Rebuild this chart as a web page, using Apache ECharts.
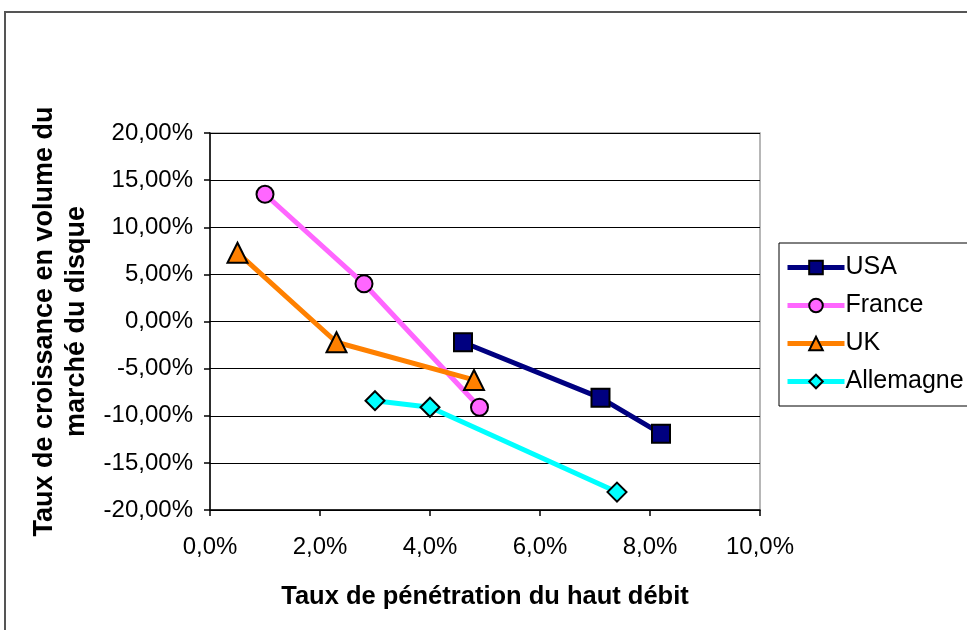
<!DOCTYPE html>
<html>
<head>
<meta charset="utf-8">
<script src="https://cdn.jsdelivr.net/npm/echarts@6/dist/echarts.min.js"></script>
<style>
html,body{margin:0;padding:0;background:#fff;}
#chart{width:967px;height:630px;}
</style>
</head>
<body>
<div id="chart"></div>
<script>
// Data (x: broadband penetration %, y: disc market volume growth %)
const seriesNames = ['USA', 'France', 'UK', 'Allemagne'];
const usaX = [4.6, 7.1, 8.2];
const usaY = [-2.2, -8.1, -11.9];
const franceX = [1.0, 2.8, 4.9];
const franceY = [13.5, 4.0, -9.1];
const ukX = [0.5, 2.3, 4.8];
const ukY = [7.3, -2.2, -6.2];
const allemagneX = [3.0, 4.0, 7.4];
const allemagneY = [-8.4, -9.1, -18.1];
const xTicks = [0, 2, 4, 6, 8, 10];
const yTicks = [-20, -15, -10, -5, 0, 5, 10, 15, 20];

const colors = ['#000080', '#FF66FF', '#FF8000', '#00FFFF'];
const symbols = ['rect', 'circle', 'triangle', 'diamond'];
const symbolSizes = [18, 17, 20, 19];
const xs = [usaX, franceX, ukX, allemagneX];
const ys = [usaY, franceY, ukY, allemagneY];

const FONT = '"Liberation Sans", Arial, sans-serif';

const chart = echarts.init(document.getElementById('chart'), null, {renderer: 'canvas'});

const series = seriesNames.map((name, i) => ({
  name: name,
  type: 'line',
  data: xs[i].map((x, j) => [x, ys[i][j]]),
  symbol: symbols[i],
  symbolSize: symbolSizes[i],
  showAllSymbol: true,
  lineStyle: {color: colors[i], width: 5},
  itemStyle: {color: colors[i], borderColor: '#000', borderWidth: 2},
  emphasis: {disabled: true},
  z: 3
}));

chart.setOption({
  animation: false,
  backgroundColor: '#fff',
  textStyle: {fontFamily: FONT},
  graphic: [{
    type: 'rect',
    shape: {x: 5, y: 12, width: 1000, height: 700},
    style: {fill: 'none', stroke: '#555', lineWidth: 2},
    z: 0
  }],
  grid: {
    left: 210, right: 207, top: 133, bottom: 120,
    show: true, borderColor: '#a0a0a0', borderWidth: 1.5, backgroundColor: 'transparent'
  },
  legend: {
    orient: 'vertical',
    left: 779, top: 243,
    padding: [12, 40, 12, 6],
    itemWidth: 57, itemHeight: 17,
    itemGap: 13,
    borderColor: '#000', borderWidth: 1,
    lineStyle: {width: 5},
    itemStyle: {borderWidth: 2, borderColor: '#000'},
    textStyle: {fontSize: 25, color: '#000', fontFamily: FONT, padding: [0, 0, 0, -4]},
    data: seriesNames
  },
  xAxis: {
    type: 'value',
    min: xTicks[0], max: xTicks[xTicks.length - 1], interval: 2,
    name: 'Taux de pénétration du haut débit',
    nameLocation: 'middle', nameGap: 74,
    nameTextStyle: {fontSize: 25.5, fontWeight: 'bold', color: '#000', fontFamily: FONT},
    axisLine: {show: true, onZero: false, lineStyle: {color: '#000', width: 1.5}},
    axisTick: {show: true, inside: false, length: 6, lineStyle: {color: '#000', width: 1.5}},
    axisLabel: {fontSize: 24, color: '#000', margin: 25, fontFamily: FONT,
      formatter: v => v.toFixed(1).replace('.', ',') + '%'},
    splitLine: {show: false}
  },
  yAxis: {
    type: 'value',
    min: yTicks[0], max: yTicks[yTicks.length - 1], interval: 5,
    name: 'Taux de croissance en volume du\nmarché du disque',
    nameLocation: 'middle', nameGap: 117,
    nameTextStyle: {fontSize: 27, fontWeight: 'bold', color: '#000', fontFamily: FONT, lineHeight: 32},
    axisLine: {show: true, onZero: false, lineStyle: {color: '#000', width: 1.5}},
    axisTick: {show: true, inside: false, length: 6, lineStyle: {color: '#000', width: 1.5}},
    axisLabel: {fontSize: 24, color: '#000', margin: 17, fontFamily: FONT,
      formatter: v => v.toFixed(2).replace('.', ',') + '%'},
    splitLine: {show: true, lineStyle: {color: '#000', width: 1.2}}
  },
  series: series
});
</script>
</body>
</html>
